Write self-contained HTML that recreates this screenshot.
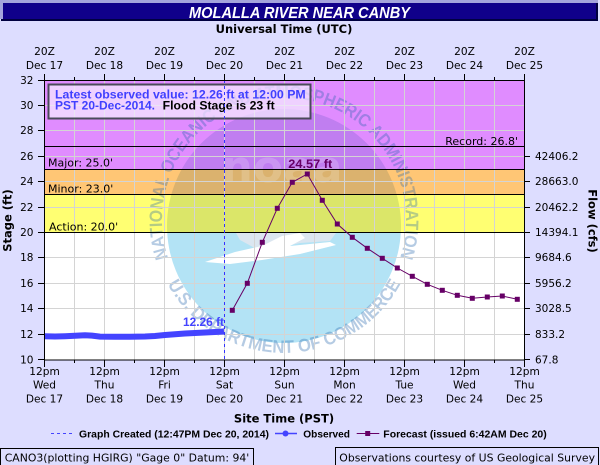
<!DOCTYPE html>
<html><head><meta charset="utf-8"><style>html,body{margin:0;padding:0;background:#ddddff;}svg{display:block;}</style></head>
<body>
<svg width="600" height="465" viewBox="0 0 600 465" xmlns="http://www.w3.org/2000/svg">
<defs>
<clipPath id="disk"><circle cx="284" cy="226" r="117"/></clipPath>
<clipPath id="upper"><polygon points="160,100 410,100 410,233 336,233 330,241 300,243 262,252 240,240 236,233 160,233"/></clipPath>
<clipPath id="plot"><rect x="44" y="80" width="480" height="280"/></clipPath>
<path id="arcTop" d="M169.4,261.7 A122,122 0 1 1 398.6,261.7"/>
<path id="arcBot" d="M166.6,282.4 A133,133 0 0 0 401.4,282.4"/>
</defs>
<rect width="600" height="465" fill="#ddddff"/>
<!-- title bar -->
<rect x="0" y="0" width="598" height="19" fill="#a4a4dc"/>
<rect x="1" y="19" width="597" height="2" fill="#000040"/>
<rect x="596" y="3" width="2" height="18" fill="#000040"/>
<rect x="3" y="3" width="593" height="16" fill="#10008a"/>
<text x="189" y="18" fill="#ffffff" font-family="Liberation Sans, Arial, sans-serif" font-weight="bold" font-style="italic" font-size="16" textLength="221" lengthAdjust="spacingAndGlyphs">MOLALLA RIVER NEAR CANBY</text>

<!-- bands -->
<rect x="44" y="80" width="480" height="89.5" fill="#e08cff"/>
<rect x="44" y="169.5" width="480" height="25" fill="#ffc675"/>
<rect x="44" y="194.5" width="480" height="38" fill="#ffff72"/>
<rect x="44" y="232.5" width="480" height="127.5" fill="#ffffff"/>

<!-- watermark -->
<g clip-path="url(#plot)">
<g clip-path="url(#disk)">
<rect x="160" y="232.5" width="260" height="130" fill="#b3e3f5"/>
<g clip-path="url(#upper)">
<rect x="160" y="100" width="260" height="69.5" fill="#c07ef0"/>
<rect x="160" y="169.5" width="260" height="25" fill="#dbb26e"/>
<rect x="160" y="194.5" width="260" height="38" fill="#dbe669"/>
<rect x="160" y="232.5" width="260" height="30" fill="#dbe6f0"/>
</g>
<text x="282" y="182" text-anchor="middle" font-family="DejaVu Sans, sans-serif" font-weight="bold" font-size="44" fill="#ffffff" fill-opacity="0.18">noaa</text>
<polygon points="205,262 235,252 262,246 282,236 300,233 305,238 290,246 330,242 336,245 300,254 262,260 230,264" fill="#ffffff"/>
</g>
<g font-family="Liberation Sans, Arial, sans-serif" font-weight="bold" font-size="18" fill="#1d62a9" fill-opacity="0.33">
<text><textPath href="#arcTop" startOffset="4" textLength="460" lengthAdjust="spacingAndGlyphs">NATIONAL OCEANIC AND ATMOSPHERIC ADMINISTRATION</textPath></text>
<text><textPath href="#arcBot" startOffset="2" textLength="284" lengthAdjust="spacingAndGlyphs">U.S. DEPARTMENT OF COMMERCE</textPath></text>
</g>
</g>

<!-- grid -->
<g stroke="#d4d4d4" stroke-width="1">
<path d="M74.5,80V360M104.5,80V360M134.5,80V360M164.5,80V360M194.5,80V360M224.5,80V360M254.5,80V360M284.5,80V360M314.5,80V360M344.5,80V360M374.5,80V360M404.5,80V360M434.5,80V360M464.5,80V360M494.5,80V360"/>
<path d="M44,105.5H524M44,130.5H524M44,156.5H524M44,181.5H524M44,207.5H524M44,257.5H524M44,283.5H524M44,308.5H524M44,334.5H524"/>
</g>
<!-- threshold lines -->
<g stroke="#000" stroke-width="1">
<path d="M44,146.5H524M44,169.5H524M44,194.5H524M44,232.5H524"/>
</g>
<g font-family="DejaVu Sans, sans-serif" font-size="11" fill="#000">
<text x="518" y="145" text-anchor="end">Record: 26.8'</text>
<text x="48" y="166.5">Major: 25.0'</text>
<text x="48" y="192.5">Minor: 23.0'</text>
<text x="49" y="230.5">Action: 20.0'</text>
</g>

<!-- info box -->
<rect x="48.5" y="84.5" width="262" height="34" fill="#f4ecff" fill-opacity="0.72" stroke="#4a4a5a" stroke-width="2"/>
<g font-family="Liberation Sans, Arial, sans-serif" font-weight="bold" font-size="11.5">
<text x="55" y="98.7" fill="#4040ff" textLength="250.7" lengthAdjust="spacingAndGlyphs">Latest observed value: 12.26 ft at 12:00 PM</text>
<text x="55" y="109.7" fill="#4040ff" textLength="100" lengthAdjust="spacingAndGlyphs">PST 20-Dec-2014.</text>
<text x="162.7" y="109.7" fill="#000" textLength="112" lengthAdjust="spacingAndGlyphs">Flood Stage is 23 ft</text>
</g>

<!-- dashed now line -->
<path d="M224.5,80V360" stroke="#3333ff" stroke-width="1" stroke-dasharray="3,3"/>

<!-- observed -->
<polyline points="44,336.3 55,336.5 65,336.2 75,335.8 85,335.2 92,335.6 100,336.6 115,336.8 130,336.8 145,336.5 155,336 165,335 175,334.2 185,333.5 195,333 205,332.5 215,332 224,331.5" fill="none" stroke="#4444ff" stroke-width="6"/>
<text x="183" y="326" fill="#4444ff" font-family="Liberation Sans, Arial, sans-serif" font-weight="bold" font-size="11.5" textLength="41" lengthAdjust="spacingAndGlyphs">12.26 ft</text>

<!-- forecast -->
<polyline points="232.3,310.3 247.3,283.3 262.3,242.3 277.3,208.3 292.3,182.3 307.3,174 322.3,200.3 337.3,224 352.3,237.3 367.3,248.3 382.3,258.3 397.3,268 412.3,276.3 427.3,284.3 442.3,290.3 457.3,295.3 472.3,298.3 487.3,297 502.3,296 517.3,299.3" fill="none" stroke="#660066" stroke-width="1"/>
<g fill="#660066">
<rect x="229.8" y="307.8" width="5" height="5"/><rect x="244.8" y="280.8" width="5" height="5"/><rect x="259.8" y="239.8" width="5" height="5"/><rect x="274.8" y="205.8" width="5" height="5"/><rect x="289.8" y="179.8" width="5" height="5"/><rect x="304.8" y="171.5" width="5" height="5"/><rect x="319.8" y="197.8" width="5" height="5"/><rect x="334.8" y="221.5" width="5" height="5"/><rect x="349.8" y="234.8" width="5" height="5"/><rect x="364.8" y="245.8" width="5" height="5"/><rect x="379.8" y="255.8" width="5" height="5"/><rect x="394.8" y="265.5" width="5" height="5"/><rect x="409.8" y="273.8" width="5" height="5"/><rect x="424.8" y="281.8" width="5" height="5"/><rect x="439.8" y="287.8" width="5" height="5"/><rect x="454.8" y="292.8" width="5" height="5"/><rect x="469.8" y="295.8" width="5" height="5"/><rect x="484.8" y="294.5" width="5" height="5"/><rect x="499.8" y="293.5" width="5" height="5"/><rect x="514.8" y="296.8" width="5" height="5"/>
</g>
<text x="288.3" y="168" fill="#660066" font-family="Liberation Sans, Arial, sans-serif" font-weight="bold" font-size="11.5" textLength="44" lengthAdjust="spacingAndGlyphs">24.57 ft</text>

<!-- axes frame -->
<rect x="44.5" y="80.5" width="480" height="279.5" fill="none" stroke="#000" stroke-width="1"/>

<!-- ticks -->
<g stroke="#000" stroke-width="1">
<path d="M38,80.5H44M38,105.5H44M38,130.5H44M38,156.5H44M38,181.5H44M38,207.5H44M38,232.5H44M38,257.5H44M38,283.5H44M38,308.5H44M38,334.5H44M38,359.5H44"/>
<path d="M524,156.5H530M524,181.5H530M524,207.5H530M524,232.5H530M524,257.5H530M524,283.5H530M524,308.5H530M524,334.5H530M524,359.5H530"/>
<path d="M44.5,74V80M104.5,74V80M164.5,74V80M224.5,74V80M284.5,74V80M344.5,74V80M404.5,74V80M464.5,74V80M524.5,74V80M74.5,77V80M134.5,77V80M194.5,77V80M254.5,77V80M314.5,77V80M374.5,77V80M434.5,77V80M494.5,77V80"/>
<path d="M44.5,360V367M104.5,360V367M164.5,360V367M224.5,360V367M284.5,360V367M344.5,360V367M404.5,360V367M464.5,360V367M524.5,360V367M74.5,360V363M134.5,360V363M194.5,360V363M254.5,360V363M314.5,360V363M374.5,360V363M434.5,360V363M494.5,360V363"/>
</g>

<!-- left labels -->
<g font-family="DejaVu Sans, sans-serif" font-size="10.5" fill="#000" text-anchor="end">
<text x="33.5" y="84">32</text><text x="33.5" y="109.2">30</text><text x="33.5" y="134.2">28</text><text x="33.5" y="160.2">26</text><text x="33.5" y="185.2">24</text><text x="33.5" y="211.2">22</text><text x="33.5" y="236.2">20</text><text x="33.5" y="261.2">18</text><text x="33.5" y="287.2">16</text><text x="33.5" y="312.2">14</text><text x="33.5" y="338.2">12</text><text x="33.5" y="363.5">10</text>
</g>
<!-- right labels -->
<g font-family="DejaVu Sans, sans-serif" font-size="10.5" fill="#000">
<text x="535" y="160.2">42406.2</text><text x="535" y="185.2">28663.0</text><text x="535" y="211.2">20462.2</text><text x="535" y="236.2">14394.1</text><text x="535" y="261.2">9684.6</text><text x="535" y="287.2">5956.2</text><text x="535" y="312.2">3028.5</text><text x="535" y="338.2">833.2</text><text x="535" y="363.5">67.8</text>
</g>
<!-- top labels -->
<g font-family="DejaVu Sans, sans-serif" font-size="10.6" fill="#000" text-anchor="middle">
<text x="44.5" y="55">20Z</text><text x="104.5" y="55">20Z</text><text x="164.5" y="55">20Z</text><text x="224.5" y="55">20Z</text><text x="284.5" y="55">20Z</text><text x="344.5" y="55">20Z</text><text x="404.5" y="55">20Z</text><text x="464.5" y="55">20Z</text><text x="524.5" y="55">20Z</text>
<text x="44.5" y="68.8">Dec 17</text><text x="104.5" y="68.8">Dec 18</text><text x="164.5" y="68.8">Dec 19</text><text x="224.5" y="68.8">Dec 20</text><text x="284.5" y="68.8">Dec 21</text><text x="344.5" y="68.8">Dec 22</text><text x="404.5" y="68.8">Dec 23</text><text x="464.5" y="68.8">Dec 24</text><text x="524.5" y="68.8">Dec 25</text>
</g>
<!-- bottom labels -->
<g font-family="DejaVu Sans, sans-serif" font-size="10.6" fill="#000" text-anchor="middle">
<text x="44.5" y="375">12pm</text><text x="104.5" y="375">12pm</text><text x="164.5" y="375">12pm</text><text x="224.5" y="375">12pm</text><text x="284.5" y="375">12pm</text><text x="344.5" y="375">12pm</text><text x="404.5" y="375">12pm</text><text x="464.5" y="375">12pm</text><text x="524.5" y="375">12pm</text>
<text x="44.5" y="388.5">Wed</text><text x="104.5" y="388.5">Thu</text><text x="164.5" y="388.5">Fri</text><text x="224.5" y="388.5">Sat</text><text x="284.5" y="388.5">Sun</text><text x="344.5" y="388.5">Mon</text><text x="404.5" y="388.5">Tue</text><text x="464.5" y="388.5">Wed</text><text x="524.5" y="388.5">Thu</text>
<text x="44.5" y="402.5">Dec 17</text><text x="104.5" y="402.5">Dec 18</text><text x="164.5" y="402.5">Dec 19</text><text x="224.5" y="402.5">Dec 20</text><text x="284.5" y="402.5">Dec 21</text><text x="344.5" y="402.5">Dec 22</text><text x="404.5" y="402.5">Dec 23</text><text x="464.5" y="402.5">Dec 24</text><text x="524.5" y="402.5">Dec 25</text>
</g>

<!-- axis titles -->
<g font-family="DejaVu Sans, sans-serif" font-weight="bold" font-size="11.5" fill="#000" text-anchor="middle">
<text x="284" y="33">Universal Time (UTC)</text>
<text x="284" y="422.5">Site Time (PST)</text>
<text transform="translate(11.5,220.5) rotate(-90)">Stage (ft)</text>
<text transform="translate(588.5,221) rotate(90)">Flow (cfs)</text>
</g>

<!-- legend -->
<path d="M51,433.5H72" stroke="#4444ff" stroke-width="1" stroke-dasharray="3,3"/>
<path d="M275,433.5H297" stroke="#4444ff" stroke-width="1.5"/>
<circle cx="285.5" cy="433.5" r="3" fill="#4444ff"/>
<path d="M356.7,433.5H379.3" stroke="#660066" stroke-width="1"/>
<rect x="365.2" y="431" width="5" height="5" fill="#660066"/>
<g font-family="Liberation Sans, Arial, sans-serif" font-weight="bold" font-size="10.5" fill="#000">
<text x="79" y="437.3" textLength="190" lengthAdjust="spacingAndGlyphs">Graph Created (12:47PM Dec 20, 2014)</text>
<text x="303.3" y="437.3" textLength="46.7" lengthAdjust="spacingAndGlyphs">Observed</text>
<text x="383.3" y="437.3" textLength="163.4" lengthAdjust="spacingAndGlyphs">Forecast (issued 6:42AM Dec 20)</text>
</g>

<!-- bottom boxes -->
<rect x="0.5" y="448.5" width="253" height="22" fill="none" stroke="#000" stroke-width="1"/>
<rect x="335.5" y="447.5" width="263" height="22" fill="none" stroke="#000" stroke-width="1"/>
<g font-family="DejaVu Sans, sans-serif" font-size="11" fill="#000">
<text x="4.7" y="461.5" textLength="244.6" lengthAdjust="spacingAndGlyphs">CANO3(plotting HGIRG) "Gage 0" Datum: 94'</text>
<text x="339.3" y="461.5" textLength="255.7" lengthAdjust="spacingAndGlyphs">Observations courtesy of US Geological Survey</text>
</g>
</svg>
</body></html>
